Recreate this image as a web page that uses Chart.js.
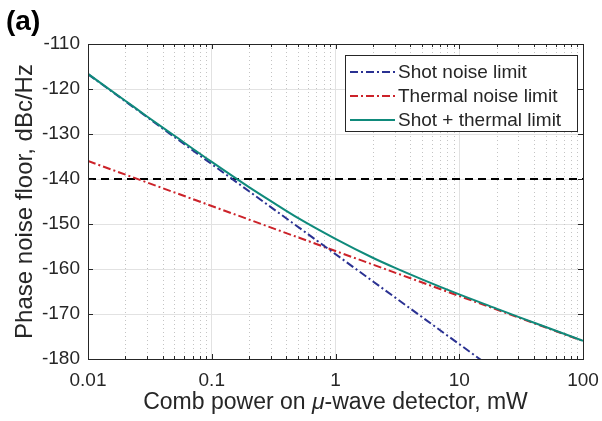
<!DOCTYPE html>
<html>
<head>
<meta charset="utf-8">
<script src="https://cdn.jsdelivr.net/npm/chart.js@4"></script>
<style>
  html, body { margin: 0; padding: 0; background: #fff; }
  #wrap { width: 602px; height: 421px; }
</style>
</head>
<body>
<div id="wrap"><canvas id="grafico" width="602" height="421"></canvas></div>
<script>
// dados
const potShot = [0.01, 100];           // mW
const ruidoShot = [-116.7, -196.7];     // dBc/Hz
const potTermico = [0.01, 100];
const ruidoTermico = [-136, -176];
const potTotal = [0.01, 0.02, 0.03, 0.05, 0.1, 0.2, 0.3, 0.5, 1, 2, 3, 5, 10, 20, 30, 50, 100];
const ruidoTotal = [-116.65, -122.6, -126.1, -130.4, -136.2, -141.8, -144.9, -148.7, -153.3,
                    -157.5, -159.7, -162.3, -165.65, -168.8, -170.65, -172.9, -175.95];
const potRef = [0.01, 100];
const ruidoRef = [-140, -140];
const nomesSeries = ['Shot noise limit', 'Thermal noise limit', 'Shot + thermal limit'];
const xTickLabels = ['0.01', '0.1', '1', '10', '100'];
const yTicks = [-180, -170, -160, -150, -140, -130, -120, -110];

const fonte = "'Liberation Sans', Arial, Helvetica, sans-serif";
const corTexto = '#262626';
const ehDecada = v => Math.abs(Math.log10(v) - Math.round(Math.log10(v))) < 1e-6;
const pontos = (xs, ys) => xs.map((x, i) => ({ x: x, y: ys[i] }));

// grade menor pontilhada + moldura com ticks para dentro (estilo MATLAB)
const molduraPlugin = {
  id: 'moldura',
  beforeDatasetsDraw(chart) {
    const { ctx, chartArea: a, scales: { x } } = chart;
    ctx.save();
    ctx.strokeStyle = '#c4c4c4';
    ctx.lineWidth = 1;
    ctx.setLineDash([1, 3]);
    for (let d = 0.01; d < 99; d *= 10) {
      for (let k = 2; k <= 9; k++) {
        const px = Math.round(x.getPixelForValue(d * k)) + 0.5;
        ctx.beginPath();
        ctx.moveTo(px, a.top);
        ctx.lineTo(px, a.bottom);
        ctx.stroke();
      }
    }
    ctx.restore();
  },
  afterDraw(chart) {
    const { ctx, chartArea: a, scales: { x, y } } = chart;
    ctx.save();
    ctx.strokeStyle = corTexto;
    ctx.lineWidth = 1;
    ctx.setLineDash([]);
    ctx.strokeRect(Math.round(a.left) + 0.5, Math.round(a.top) + 0.5,
                   Math.round(a.right - a.left), Math.round(a.bottom - a.top));
    // ticks x
    ctx.beginPath();
    for (let d = 0.01; d < 999; d *= 10) {
      for (let k = 1; k <= 9; k++) {
        const v = d * k;
        if (v > 100.001) break;
        const px = Math.round(x.getPixelForValue(v)) + 0.5;
        const len = k === 1 ? 5 : 3;
        ctx.moveTo(px, a.bottom); ctx.lineTo(px, a.bottom - len);
        ctx.moveTo(px, a.top); ctx.lineTo(px, a.top + len);
      }
    }
    // ticks y
    yTicks.forEach(v => {
      const py = Math.round(y.getPixelForValue(v)) + 0.5;
      ctx.moveTo(a.left, py); ctx.lineTo(a.left + 5, py);
      ctx.moveTo(a.right, py); ctx.lineTo(a.right - 5, py);
    });
    ctx.stroke();

    // legenda
    const lx = a.right - 238, ly = a.top + 11, lw = 232, lh = 76;
    ctx.fillStyle = '#fff';
    ctx.fillRect(lx, ly, lw, lh);
    ctx.strokeRect(Math.round(lx) + 0.5, Math.round(ly) + 0.5, lw, lh);
    ctx.font = '19px ' + fonte;
    ctx.textBaseline = 'middle';
    ctx.textAlign = 'left';
    chart.data.datasets.forEach((ds, i) => {
      if (!ds.label) return;
      const cy = ly + 17 + i * 24;
      ctx.strokeStyle = ds.borderColor;
      ctx.lineWidth = 2;
      ctx.setLineDash(ds.borderDash || []);
      ctx.beginPath();
      ctx.moveTo(lx + 5, cy); ctx.lineTo(lx + 50, cy);
      ctx.stroke();
      ctx.fillStyle = corTexto;
      ctx.fillText(ds.label, lx + 53, cy + 1);
    });

    // titulo do eixo x (com mu em italico)
    const partes = [['Comb power on ', ''], ['\u03bc', 'italic '], ['-wave detector, mW', '']];
    let total = 0;
    partes.forEach(p => { ctx.font = p[1] + '23px ' + fonte; total += ctx.measureText(p[0]).width; });
    let tx = (a.left + a.right) / 2 - total / 2;
    ctx.fillStyle = corTexto;
    ctx.textBaseline = 'alphabetic';
    partes.forEach(p => {
      ctx.font = p[1] + '23px ' + fonte;
      ctx.fillText(p[0], tx, 409);
      tx += ctx.measureText(p[0]).width;
    });

    // rotulo (a)
    ctx.font = 'bold 28px ' + fonte;
    ctx.fillStyle = '#000';
    ctx.fillText('(a)', 6, 30);
    ctx.restore();
  }
};

function gerarGrafico() {
  const ctx = document.getElementById('grafico').getContext('2d');

  const data = {
    datasets: [
      {
        label: nomesSeries[0],
        data: pontos(potShot, ruidoShot),
        borderColor: '#2a3192',
        borderWidth: 2,
        borderDash: [8, 3, 2, 3],
        order: 1
      },
      {
        label: nomesSeries[1],
        data: pontos(potTermico, ruidoTermico),
        borderColor: '#cc2229',
        borderWidth: 2,
        borderDash: [8, 3, 2, 3],
        order: 2
      },
      {
        label: nomesSeries[2],
        data: pontos(potTotal, ruidoTotal),
        borderColor: '#0f8a7b',
        borderWidth: 2,
        cubicInterpolationMode: 'monotone',
        order: 0
      },
      {
        label: '',
        data: pontos(potRef, ruidoRef),
        borderColor: '#000',
        borderWidth: 2,
        borderDash: [8, 5],
        order: 3
      }
    ]
  };

  const options = {
    responsive: false,
    animation: false,
    layout: { padding: { top: 44, right: 19, left: 0, bottom: 0 } },
    elements: { point: { radius: 0 }, line: { fill: false } },
    plugins: { legend: { display: false }, tooltip: { enabled: false } },
    scales: {
      x: {
        type: 'logarithmic',
        min: 0.01,
        max: 100,
        afterFit: s => { s.height = 62; s.paddingLeft = 0; s.paddingRight = 0; },
        grid: {
          drawTicks: false,
          color: c => (c.tick && ehDecada(c.tick.value)) ? '#e2e2e2' : 'rgba(0,0,0,0)'
        },
        border: { display: false },
        ticks: {
          autoSkip: false,
          maxRotation: 0,
          padding: 10,
          color: corTexto,
          font: { size: 19, family: fonte },
          callback: v => ehDecada(v) ? xTickLabels[Math.round(Math.log10(v)) + 2] : ''
        }
      },
      y: {
        min: -180,
        max: -110,
        afterFit: s => { s.width = 88; },
        grid: { drawTicks: false, color: '#e2e2e2' },
        border: { display: false },
        ticks: {
          stepSize: 10,
          padding: 8,
          color: corTexto,
          font: { size: 19, family: fonte },
          callback: v => String(v)
        },
        title: {
          display: true,
          text: 'Phase noise floor, dBc/Hz',
          color: corTexto,
          font: { size: 24, family: fonte },
          padding: { top: 11, bottom: 0 }
        }
      }
    }
  };

  chart = new Chart(ctx, {
    type: 'line',
    data: data,
    options: options,
    plugins: [molduraPlugin]
  });
}

gerarGrafico();
</script>
</body>
</html>
